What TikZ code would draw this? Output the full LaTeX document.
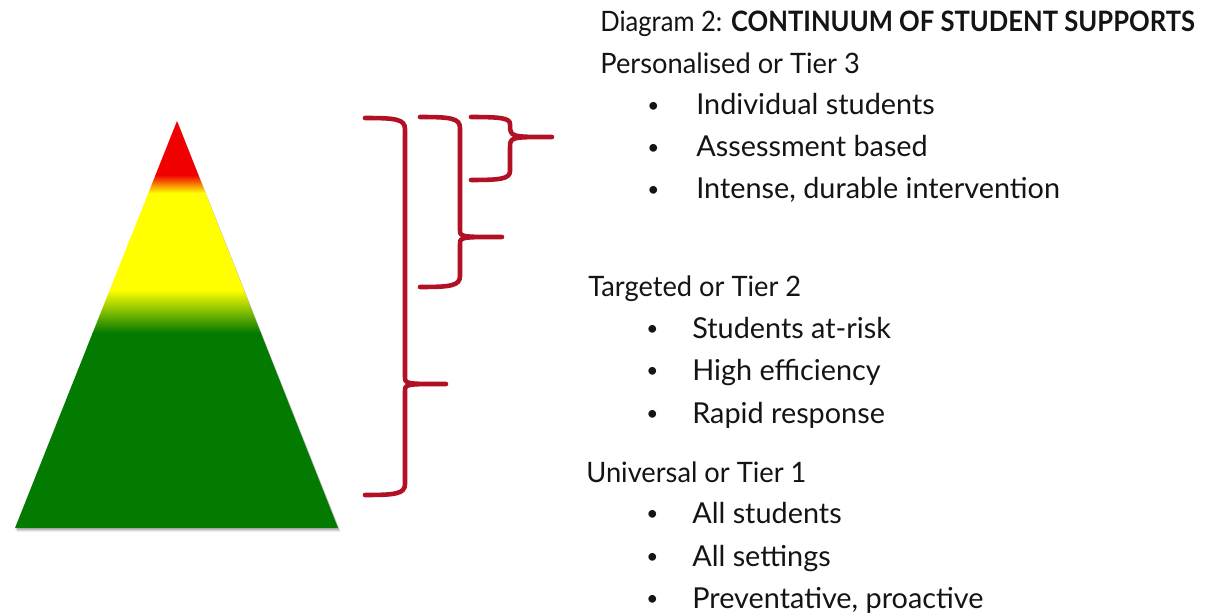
\documentclass[tikz,border=0pt]{standalone}
\usepackage{fontspec}
\usepackage{graphicx}
\setmainfont{Lato}
\newfontfamily\narrowfont[FakeStretch=0.97]{Lato}
\newfontfamily\titlefont[FakeStretch=0.91]{Lato}
\definecolor{tiergreen}{RGB}{3,122,0}
\definecolor{tieryellow}{RGB}{255,255,0}
\definecolor{tierred}{RGB}{240,0,0}
\definecolor{bracered}{RGB}{178,16,36}
\definecolor{tiertext}{RGB}{20,20,20}
\tikzset{
    tierbrace/.style={bracered, line width=2.6pt, line cap=round, line join=round},
    heading/.style={anchor=base west, inner sep=0pt, text=tiertext, font=\narrowfont\fontsize{16}{19}\selectfont},
    item/.style={anchor=base west, inner sep=0pt, text=tiertext, font=\fontsize{16.4}{19}\selectfont},
}
\newcommand{\bul}[1][0.92cm]{\makebox[#1][l]{\raisebox{1.4pt}{\scalebox{0.72}{\textbullet}}}}
\begin{document}
\begin{tikzpicture}
    \useasboundingbox (0,0) rectangle (24.2,12.26);
    % pyramid with shadow
    \fill[black, opacity=0.12] (3.56,9.80) -- (0.33,1.63) -- (6.81,1.63) -- cycle;
    \fill[black, opacity=0.18] (3.55,9.82) -- (0.32,1.66) -- (6.79,1.66) -- cycle;
    \begin{scope}
        \clip (3.54,9.84) -- (0.30,1.70) -- (6.76,1.70) -- cycle;
        \fill[tierred] (0,8.76) rectangle (7,10);
        \shade[top color=tierred, bottom color=tieryellow] (0,8.40) rectangle (7,8.76);
        \fill[tieryellow] (0,6.46) rectangle (7,8.40);
        \shade[top color=tieryellow, bottom color=tiergreen] (0,5.60) rectangle (7,6.46);
        \fill[tiergreen] (0,1.60) rectangle (7,5.60);
    \end{scope}
    % braces
    \draw[tierbrace] (7.30,9.90) .. controls (7.90,9.90) and (8.10,9.88) .. (8.10,9.68) -- (8.10,4.73)
        .. controls (8.10,4.58) .. (8.92,4.58) .. controls (8.10,4.58) .. (8.10,4.43) -- (8.10,2.58)
        .. controls (8.10,2.38) and (7.90,2.36) .. (7.30,2.36);
    \draw[tierbrace] (8.40,9.92) .. controls (9.00,9.92) and (9.20,9.90) .. (9.20,9.70) -- (9.20,7.67)
        .. controls (9.20,7.52) .. (10.04,7.52) .. controls (9.20,7.52) .. (9.20,7.37) -- (9.20,6.74)
        .. controls (9.20,6.54) and (9.00,6.52) .. (8.40,6.52);
    \draw[tierbrace] (9.42,9.92) .. controls (10.00,9.92) and (10.20,9.90) .. (10.20,9.78)
        .. controls (10.20,9.52) .. (11.04,9.52) .. controls (10.20,9.52) .. (10.20,9.30) -- (10.20,8.84)
        .. controls (10.20,8.68) and (10.00,8.66) .. (9.42,8.66);
    % texts
    \node[heading, font=\titlefont\fontsize{16}{19}\selectfont] (title) at (12.00,11.62) {Diagram 2: \textbf{CONTINUUM OF STUDENT SUPPORTS}};
    \node[heading] (tier3) at (12.00,10.78) {Personalised or Tier 3};
    \node[item] (t3a) at (12.94,9.96) {\bul[0.98cm]Individual students};
    \node[item] (t3b) at (12.94,9.12) {\bul[0.98cm]Assessment based};
    \node[item] (t3c) at (12.94,8.28) {\bul[0.98cm]Intense, durable intervention};
    \node[heading] (tier2) at (11.76,6.34) {Targeted or Tier 2};
    \node[item] (t2a) at (12.92,5.50) {\bul Students at-risk};
    \node[item] (t2b) at (12.92,4.66) {\bul High efficiency};
    \node[item] (t2c) at (12.92,3.80) {\bul Rapid response};
    \node[heading] (tier1) at (11.72,2.62) {Universal or Tier 1};
    \node[item] (t1a) at (12.92,1.80) {\bul All students};
    \node[item] (t1b) at (12.92,0.94) {\bul All settings};
    \node[item] (t1c) at (12.92,0.10) {\bul Preventative, proactive};
\end{tikzpicture}
\end{document}
